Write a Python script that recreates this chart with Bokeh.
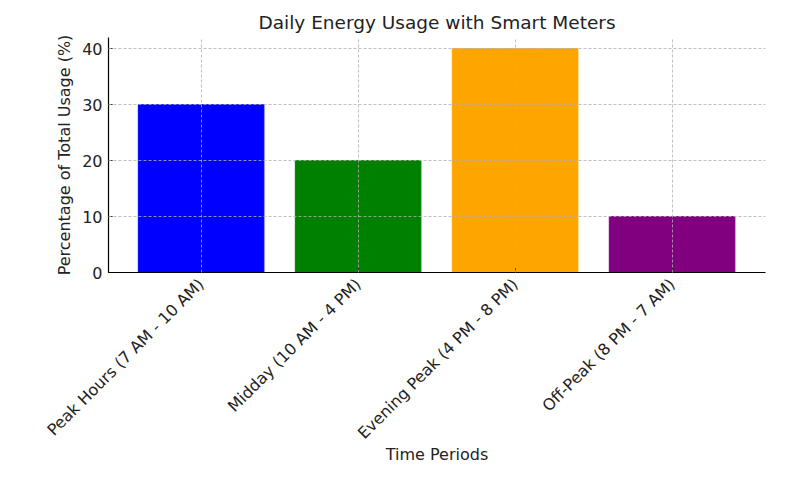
import math
from bokeh.plotting import figure
from bokeh.models import ColumnDataSource, FixedTicker, Range1d
from bokeh.embed import file_html
from bokeh.resources import INLINE

categories = ["Peak Hours (7 AM - 10 AM)", "Midday (10 AM - 4 PM)",
              "Evening Peak (4 PM - 8 PM)", "Off-Peak (8 PM - 7 AM)"]
usage = [30, 20, 40, 10]
colors = ["blue", "green", "orange", "purple"]
y_ticks = [0, 10, 20, 30, 40]

FONT = "DejaVu Sans"
xs = list(range(len(categories)))
src = ColumnDataSource(dict(x=xs, top=usage, color=colors))

p = figure(width=795, height=477, output_backend="svg", toolbar_location=None,
           x_range=Range1d(-0.59, 3.595), y_range=Range1d(0, 42),
           min_border_left=108, min_border_right=30, min_border_top=37,
           min_border_bottom=205)
p.title.text = "Daily Energy Usage with Smart Meters"
p.title.align = "center"
p.title.text_font = FONT
p.title.text_font_size = "18.5px"
p.title.text_font_style = "normal"
p.title.text_color = "#222222"

p.vbar(x="x", top="top", width=0.8, color="color", source=src)

p.xaxis.ticker = FixedTicker(ticks=xs)
p.xaxis.major_label_overrides = {i: c for i, c in enumerate(categories)}
p.xaxis.major_label_orientation = math.pi / 4
p.xaxis.major_label_standoff = 9
p.xaxis.axis_label_standoff = -7
p.yaxis.ticker = FixedTicker(ticks=y_ticks)
p.yaxis.major_label_standoff = 6
p.xaxis.axis_label = "Time Periods"
p.yaxis.axis_label = "Percentage of Total Usage (%)"

for ax in (p.xaxis[0], p.yaxis[0]):
    ax.axis_label_text_font = FONT
    ax.axis_label_text_font_size = "16px"
    ax.axis_label_text_font_style = "normal"
    ax.axis_label_text_color = "#222222"
    ax.major_label_text_font = FONT
    ax.major_label_text_font_size = "16px"
    ax.major_label_text_color = "#222222"
    ax.axis_line_color = "black"
    ax.axis_line_width = 1.2
    ax.major_tick_in = 4
    ax.major_tick_out = 0
    ax.minor_tick_line_color = None
    ax.major_tick_line_color = "black"

for g in (p.xgrid[0], p.ygrid[0]):
    g.grid_line_color = "#b0b0b0"
    g.grid_line_dash = "3 2"
    g.grid_line_alpha = 0.8
    g.level = "overlay"

p.outline_line_color = None
p.background_fill_color = "white"
p.border_fill_color = "white"

open("out.html", "w").write(file_html(p, INLINE))
